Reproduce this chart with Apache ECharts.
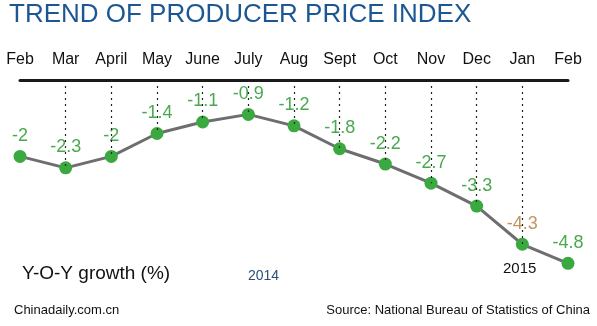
<!DOCTYPE html>
<html><head><meta charset="utf-8">
<script src="https://cdn.jsdelivr.net/npm/echarts@6/dist/echarts.min.js"></script>
<style>html,body{margin:0;padding:0;background:#fff}#c{width:597px;height:326px}</style>
</head><body><div id="c"></div>
<script>
const months = ['Feb','Mar','April','May','June','July','Aug','Sept','Oct','Nov','Dec','Jan','Feb'];
const ppi = [-2, -2.3, -2, -1.4, -1.1, -0.9, -1.2, -1.8, -2.2, -2.7, -3.3, -4.3, -4.8];
const highlightIndex = 11;

const chart = echarts.init(document.getElementById('c'));
const font = 'Arial, "Liberation Sans", sans-serif';
const green = '#3aa940';
const cats = months.map((m, i) => m + '#' + i);

const dropLines = ppi.map((v, i) => ({ v, i })).filter(d => d.i > 0 && d.i < ppi.length - 1)
  .map(d => [{ coord: [cats[d.i], 0] }, { coord: [cats[d.i], d.v] }]);

chart.setOption({
  animation: false,
  grid: { left: 20, right: 29, top: 80, bottom: 55 },
  xAxis: {
    type: 'category', position: 'top', data: cats, boundaryGap: false,
    axisLine: { lineStyle: { color: '#1a1a1a', width: 3 } },
    axisTick: { show: false },
    axisLabel: { formatter: v => v.split('#')[0], color: '#111', fontSize: 16, fontFamily: font, margin: 12, interval: 0 },
    splitLine: { show: false }
  },
  yAxis: { type: 'value', min: -5, max: 0, show: false },
  series: [{
    type: 'line', data: ppi.map((v, i) => i === highlightIndex ? { value: v, label: { color: '#c0955f' } } : v),
    symbol: 'circle', symbolSize: 13,
    lineStyle: { color: '#6e6e6e', width: 3 },
    itemStyle: { color: green },
    label: {
      show: true, position: 'top', distance: 5, fontSize: 18, fontFamily: font, color: '#4aa84f',
      formatter: p => String(p.value)
    },
    markLine: {
      silent: true, symbol: 'none', label: { show: false },
      lineStyle: { type: [2, 4], color: '#222', width: 1.2 },
      data: dropLines
    },
    z: 3
  }],
  graphic: [
    { type: 'text', left: 9, top: 2, style: { text: 'TREND OF PRODUCER PRICE INDEX', font: '26px ' + font, fill: '#1d5793' } },
    { type: 'text', left: 22, top: 264, style: { text: 'Y-O-Y growth (%)', font: '19px ' + font, fill: '#111' } },
    { type: 'text', left: 248, top: 269, style: { text: '2014', font: '14px ' + font, fill: '#2b4f7c' } },
    { type: 'text', left: 503, top: 261, style: { text: '2015', font: '15px ' + font, fill: '#111' } },
    { type: 'text', left: 14, top: 304, style: { text: 'Chinadaily.com.cn', font: '13px ' + font, fill: '#111' } },
    { type: 'text', right: 7, top: 304, style: { text: 'Source: National Bureau of Statistics of China', font: '13px ' + font, fill: '#111' } }
  ]
});
</script></body></html>
